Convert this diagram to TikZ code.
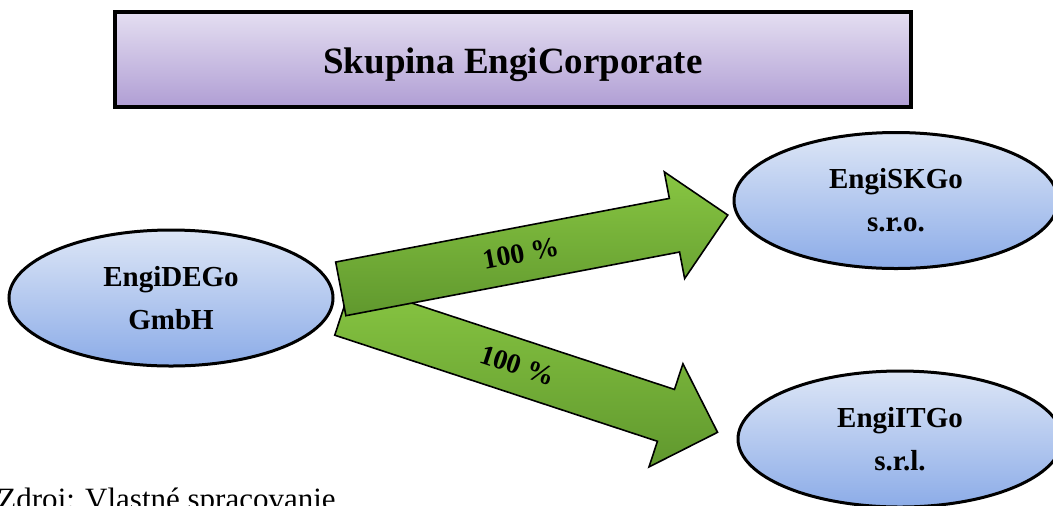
\documentclass[tikz,border=0pt]{standalone}
\usepackage{fontspec}
\setmainfont{Liberation Serif}
\usetikzlibrary{shapes.geometric, shapes.arrows}

\definecolor{boxtop}{RGB}{228,222,241}
\definecolor{boxbot}{RGB}{176,158,212}
\definecolor{elltop}{RGB}{221,230,246}
\definecolor{ellbot}{RGB}{140,172,232}
\definecolor{greentop}{RGB}{136,198,66}
\definecolor{greenbot}{RGB}{96,152,46}

\tikzset{
  titlebox/.style={rectangle, draw=black, line width=1.7pt, top color=boxtop, bottom color=boxbot,
    minimum width=398pt, minimum height=47.5pt, text height=18pt, text depth=4pt,
    font=\fontsize{18.5}{22}\selectfont\bfseries},
  firm/.style={ellipse, draw=black, line width=1.5pt, top color=elltop, bottom color=ellbot,
    minimum width=162pt, minimum height=68pt, inner sep=0pt, align=center,
    font=\fontsize{14.5}{21.5}\selectfont\bfseries},
  share/.style={single arrow, draw=black, line width=0.8pt, top color=greentop, bottom color=greenbot,
    anchor=tail, minimum height=197pt, text height=9pt, text depth=1pt, inner ysep=8.25pt,
    single arrow head extend=13.5pt, font=\fontsize{14}{16}\selectfont\bfseries}
}

\begin{document}
\begin{tikzpicture}[x=0.5pt, y=-0.5pt]

\useasboundingbox (0,0) rectangle (1053,505);

% Title
\node[titlebox] (group) at (513,59.5) {Skupina EngiCorporate};

% Companies
\node[firm] (de) at (171,298) {EngiDEGo\\GmbH};
\node[firm] (sk) at (896,200.5) {EngiSKGo\\s.r.o.};
\node[firm] (it) at (900,439) {EngiITGo\\s.r.l.};

% Shares
\node[share, rotate=-18.2] (toit) at (342.5,309) {100 \%};
\node[share, rotate=10.8] (tosk) at (340,289) {100 \%};

% Source
\node[anchor=base west, inner sep=0pt, font=\fontsize{15.5}{18}\selectfont] (src) at (-3,509) {Zdroj: Vlastné spracovanie};

\end{tikzpicture}
\end{document}
